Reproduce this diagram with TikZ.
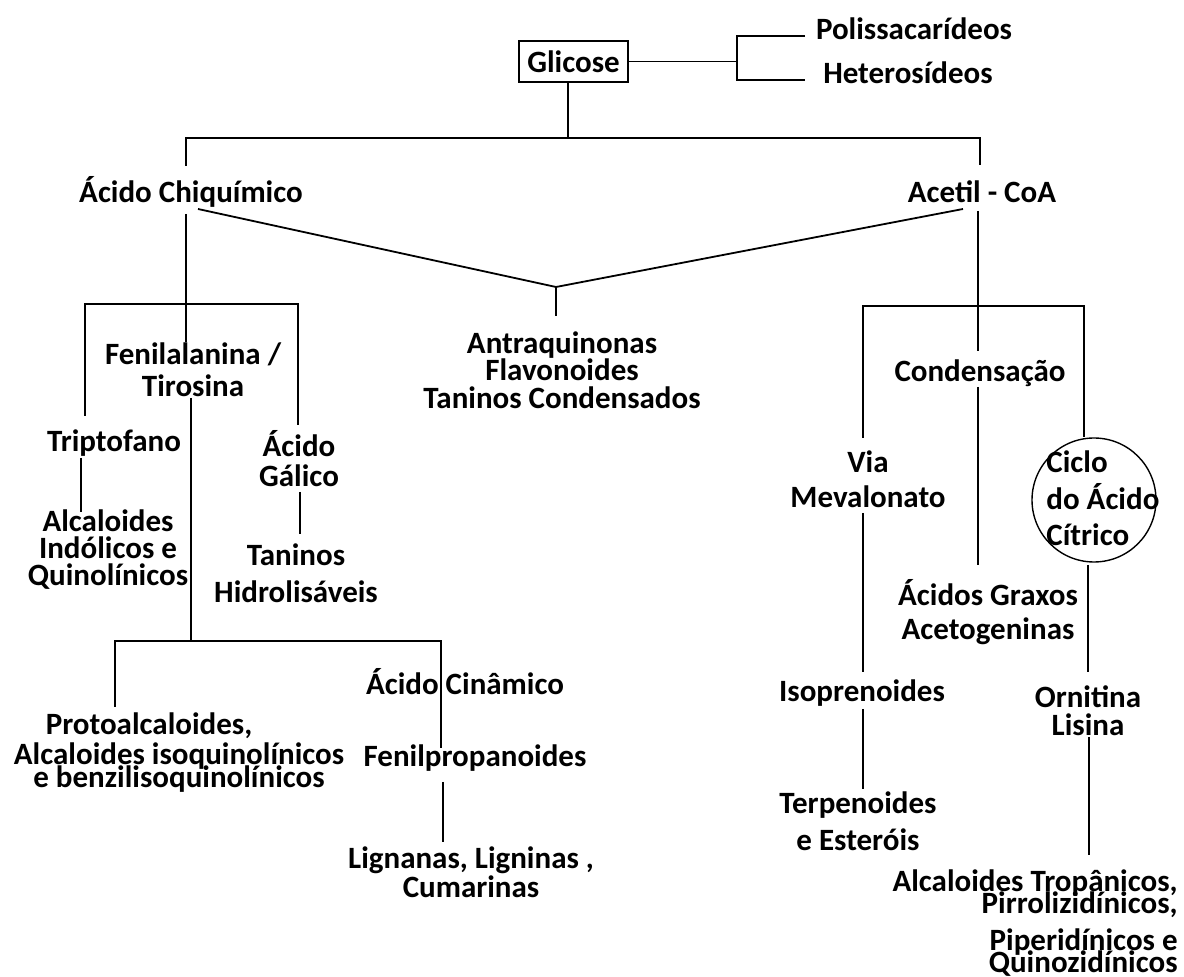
\documentclass[tikz,border=0pt]{standalone}
\usepackage{fontspec}
\setmainfont{Carlito}
\lineskiplimit=-50pt
\tikzset{
  lbl/.style={font=\bfseries\fontsize{15.5}{#1}\selectfont, align=center, inner sep=0pt},
  lbl/.default=15pt,
  ln/.style={line width=0.9pt, color=black}
}

\begin{document}
\begin{tikzpicture}[x=0.5pt, y=-0.5pt]
		%%%%% START %%%%%
		\useasboundingbox (0,0) rectangle (1184,977);
		
		\node[lbl, draw, line width=1pt, minimum width=54.5pt, minimum height=20.5pt] (glic) at (573.5,61.5) {Glicose};
		\node[lbl] (poli) at (914,29) {Polissacarídeos};
		\node[lbl] (hete) at (908,73) {Heterosídeos};
		\coordinate (fork) at (737,61.5);
		\coordinate (poliW) at (805,36);
		\coordinate (heteW) at (805,80);
		\draw[ln] (glic) -- (fork);
		\draw[ln] (poliW) -| (fork) |- (heteW);
		
		\node[lbl] (chiq) at (191,192) {Ácido Chiquímico};
		\node[lbl] (acet) at (982,192) {Acetil - CoA};
		\coordinate (top) at (568,138);
		\coordinate (barL) at (186,138);
		\coordinate (barR) at (980,138);
		\coordinate (chiqN) at (186,166);
		\coordinate (acetN) at (980,165);
		\draw[ln] (glic.south -| top) -- (top);
		\draw[ln] (chiqN) -- (barL) -- (barR) -- (acetN);
		
		\node[lbl=13.75pt] (antr) at (562,370) {Antraquinonas\\Flavonoides\\Taninos Condensados};
		\coordinate (vtip) at (556,287);
		\coordinate (chiqE) at (198,209);
		\coordinate (acetW) at (963,209);
		\coordinate (antrN) at (556,316);
		\draw[ln] (chiqE) -- (vtip) -- (acetW);
		\draw[ln] (vtip) -- (antrN);
		
		%% shikimate side
		\node[lbl=16pt] (fen) at (193,370) {Fenilalanina /\\Tirosina};
		\node[lbl] (trip) at (114,443) {Triptofano};
		\node[lbl] (galico) at (299,459) {Ácido\\Gálico};
		\node[lbl=13.5pt] (alcI) at (108,550) {Alcaloides\\Indólicos e\\Quinolínicos};
		\node[lbl=18.5pt] (tanH) at (296,573.5) {Taninos\\Hidrolisáveis};
		\coordinate (chiqS) at (186,214);
		\coordinate (fenN) at (186,342);
		\coordinate (lbL) at (85,304);
		\coordinate (lbR) at (298,304);
		\coordinate (tripN) at (85,416);
		\coordinate (galN) at (298,425);
		\draw[ln] (chiqS) -- (fenN);
		\draw[ln] (tripN) -- (lbL) -- (lbR) -- (galN);
		\coordinate (tripS) at (81,458);
		\coordinate (alcN) at (81,512);
		\draw[ln] (tripS) -- (alcN);
		\coordinate (galS) at (300,492);
		\coordinate (tanN) at (300,534);
		\draw[ln] (galS) -- (tanN);
		
		\coordinate (fenS) at (191,398);
		\coordinate (bot) at (191,641);
		\coordinate (bbL) at (115,641);
		\coordinate (bbR) at (441,641);
		\coordinate (protoN) at (115,707);
		\coordinate (fenpN) at (441,748);
		\draw[ln] (fenS) -- (bot);
		\draw[ln] (protoN) -- (bbL) -- (bbR) -- (fenpN);
		\node[lbl] (cin) at (465,682) {Ácido Cinâmico};
		\node[lbl] (fenp) at (475,758) {Fenilpropanoides};
		\node[lbl=15pt] (proto) at (179,753) {Protoalcaloides,\hspace*{30pt}\\Alcaloides isoquinolínicos\\[-3.5pt]e benzilisoquinolínicos};
		\node[lbl=14.5pt] (lign) at (471,872.5) {Lignanas, Ligninas ,\\Cumarinas};
		\coordinate (fenpS) at (443,782);
		\coordinate (lignN) at (443,842);
		\draw[ln] (fenpS) -- (lignN);
		
		%% acetate side
		\node[lbl] (cond) at (980,373) {Condensação};
		\node[lbl=17.5pt] (via) at (868,479.5) {Via\\Mevalonato};
		\node[draw, circle, line width=0.7pt, minimum size=62pt, inner sep=0pt] (ciclo) at (1094,500) {};
		\node[lbl=18.25pt, align=left, anchor=west] (cicloT) at (1046,498.5) {Ciclo\\do Ácido\\Cítrico};
		\node[lbl=17pt] (acG) at (988,612) {Ácidos Graxos\\Acetogeninas};
		\node[lbl] (iso) at (862,693) {Isoprenoides};
		\node[lbl=14pt] (orn) at (1088,711) {Ornitina\\Lisina};
		\node[lbl=18.5pt] (terp) at (858,821.5) {Terpenoides\\e Esteróis};
		\node[lbl=11pt, align=right, anchor=east] (alcT) at (1178,923) {Alcaloides Tropânicos,\\Pirrolizidínicos,\\[7.5pt]Piperidínicos e\\Quinozidínicos};
		
		\coordinate (acetS) at (978,211);
		\coordinate (condN) at (978,351);
		\coordinate (rbL) at (863,306);
		\coordinate (rbR) at (1084,306);
		\coordinate (viaN) at (863,438);
		\draw[ln] (acetS) -- (condN);
		\draw[ln] (viaN) -- (rbL) -- (rbR) -- (ciclo.north -| rbR);
		\coordinate (condS) at (978,387);
		\coordinate (acGN) at (978,565);
		\draw[ln] (condS) -- (acGN);
		\coordinate (viaS) at (863,513);
		\coordinate (isoN) at (863,672);
		\coordinate (isoS) at (863,709);
		\coordinate (terpN) at (863,789);
		\draw[ln] (viaS) -- (isoN);
		\draw[ln] (isoS) -- (terpN);
		\coordinate (cicloS) at (1088,565);
		\coordinate (ornN) at (1088,672);
		\coordinate (ornS) at (1089,737);
		\coordinate (alcTN) at (1089,855);
		\draw[ln] (cicloS) -- (ornN);
		\draw[ln] (ornS) -- (alcTN);
		
		%%%%% END %%%%%
	\end{tikzpicture}
\end{document}
